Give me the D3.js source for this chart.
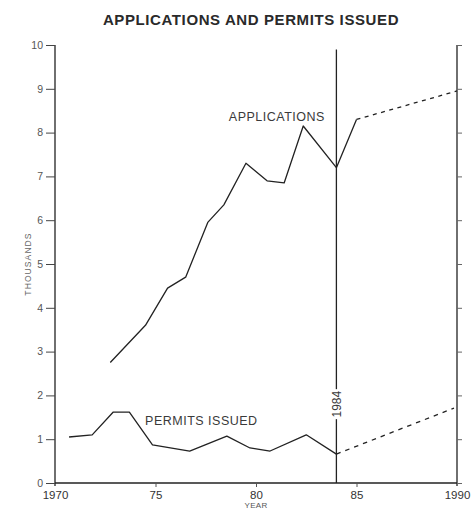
<!DOCTYPE html>
<html>
<head>
<meta charset="utf-8">
<script src="https://cdn.jsdelivr.net/npm/d3@7/dist/d3.min.js"></script>
<style>
  html, body { margin: 0; padding: 0; background: #fff; }
  svg { display: block; font-family: "Liberation Sans", Arial, Helvetica, sans-serif; }
</style>
</head>
<body>
<svg id="chart" width="471" height="511"></svg>
<script>
// ---- data ----
const title = "APPLICATIONS AND PERMITS ISSUED";
const xTickValues = [1970, 1975, 1980, 1985, 1990];
const xTickLabels = ["1970", "75", "80", "85", "1990"];
const yTickValues = [0, 1, 2, 3, 4, 5, 6, 7, 8, 9, 10];
const markerYear = 1984;

const appYears  = [1972.75, 1974.5, 1975.6, 1976.5, 1977.6, 1978.4, 1979.5, 1980.55, 1981.4, 1982.35, 1984, 1985];
const appValues = [2.75, 3.6, 4.45, 4.7, 5.95, 6.35, 7.3, 6.9, 6.85, 8.15, 7.2, 8.3];
const appProjYears  = [1985, 1990];
const appProjValues = [8.3, 8.95];

const permitYears  = [1970.7, 1971.85, 1972.9, 1973.7, 1974.85, 1976.7, 1978.55, 1979.7, 1980.7, 1982.5, 1984];
const permitValues = [1.05, 1.1, 1.62, 1.62, 0.87, 0.73, 1.07, 0.8, 0.73, 1.1, 0.66];
const permitProjYears  = [1984, 1989.85];
const permitProjValues = [0.66, 1.71];

// ---- scales ----
const svg = d3.select("#chart");
const x = d3.scaleLinear().domain([1970, 1990]).range([55, 457]);
const y = d3.scaleLinear().domain([0, 10]).range([483, 45]);

const ink = "#222";
const textCol = "#3a3a3a";

// title
svg.append("text")
  .attr("x", 251).attr("y", 25)
  .attr("text-anchor", "middle")
  .attr("font-size", 15).attr("font-weight", "bold")
  .attr("letter-spacing", 0.6)
  .attr("fill", "#2a2a2a")
  .text(title);

// left axis
const yAxis = d3.axisLeft(y).tickValues(yTickValues).tickSize(9).tickPadding(3).tickFormat(d3.format("d"));
const gy = svg.append("g").attr("transform", `translate(${x(1970)},0)`).call(yAxis);
gy.select(".domain").attr("stroke", ink).attr("stroke-width", 1.3).attr("d", `M0,${y(10)}V${y(0)+3}`);
gy.selectAll(".tick line").attr("stroke", "#444").attr("stroke-width", 1);
gy.selectAll(".tick text").attr("font-size", 10.5).attr("fill", "#555")
  .attr("font-family", "'Liberation Sans', Arial, sans-serif");

// right axis
const yAxisR = d3.axisRight(y).tickValues(yTickValues).tickSize(5).tickFormat("");
const gyr = svg.append("g").attr("transform", `translate(${x(1990)},0)`).call(yAxisR);
gyr.select(".domain").attr("stroke", ink).attr("stroke-width", 1.3).attr("d", `M0,${y(10)}V${y(0)+3}`);
gyr.selectAll(".tick line").attr("stroke", "#666").attr("stroke-width", 1);

// bottom axis
const xAxis = d3.axisBottom(x).tickValues(xTickValues).tickSize(4).tickPadding(4)
  .tickFormat((d, i) => xTickLabels[i]);
const gx = svg.append("g").attr("transform", `translate(0,${y(0)})`).call(xAxis);
gx.select(".domain").attr("stroke", ink).attr("stroke-width", 1.3).attr("d", `M${x(1970)},0H${x(1990)}`);
gx.selectAll(".tick line").attr("stroke", "#555").attr("stroke-width", 1)
  .attr("display", d => (d === 1970 || d === 1990) ? "none" : null);
gx.selectAll(".tick text").attr("font-size", 11.5).attr("fill", "#333")
  .attr("font-family", "'Liberation Sans', Arial, sans-serif");

// axis titles
svg.append("text")
  .attr("x", x(1980)).attr("y", 508)
  .attr("text-anchor", "middle").attr("font-size", 8).attr("fill", "#555")
  .attr("letter-spacing", 0.3)
  .text("YEAR");
svg.append("text")
  .attr("transform", `translate(31,${y(5.0)}) rotate(-90)`)
  .attr("text-anchor", "middle").attr("font-size", 8.5).attr("fill", "#666")
  .attr("letter-spacing", 1.1)
  .text("THOUSANDS");

// 1984 marker line
svg.append("line")
  .attr("x1", x(markerYear)).attr("x2", x(markerYear))
  .attr("y1", y(9.9)).attr("y2", y(0))
  .attr("stroke", ink).attr("stroke-width", 1.3);
const mk = svg.append("g").attr("transform", `translate(${x(markerYear)},${y(1.8)}) rotate(-90)`);
mk.append("rect").attr("x", -15).attr("y", -7).attr("width", 30).attr("height", 13).attr("fill", "#fff");
mk.append("text").attr("text-anchor", "middle").attr("dy", "0.35em")
  .attr("font-size", 12).attr("fill", textCol).text(String(markerYear));

// lines
const line = d3.line().x(d => x(d[0])).y(d => y(d[1]));
const zip = (a, b) => a.map((v, i) => [v, b[i]]);

svg.append("path").datum(zip(appYears, appValues)).attr("d", line)
  .attr("fill", "none").attr("stroke", ink).attr("stroke-width", 1.3).attr("stroke-linejoin", "round");
svg.append("path").datum(zip(appProjYears, appProjValues)).attr("d", line)
  .attr("fill", "none").attr("stroke", ink).attr("stroke-width", 1.3).attr("stroke-dasharray", "4,4.5");

svg.append("path").datum(zip(permitYears, permitValues)).attr("d", line)
  .attr("fill", "none").attr("stroke", ink).attr("stroke-width", 1.3).attr("stroke-linejoin", "round");
svg.append("path").datum(zip(permitProjYears, permitProjValues)).attr("d", line)
  .attr("fill", "none").attr("stroke", ink).attr("stroke-width", 1.3).attr("stroke-dasharray", "4.5,5");

// series labels
svg.append("text")
  .attr("x", x(1978.65)).attr("y", y(8.27))
  .attr("font-size", 12.5).attr("letter-spacing", 0.5).attr("fill", textCol)
  .text("APPLICATIONS");
svg.append("text")
  .attr("x", x(1974.48)).attr("y", y(1.32))
  .attr("font-size", 12.5).attr("letter-spacing", 0.5).attr("fill", textCol)
  .text("PERMITS ISSUED");
</script>
</body>
</html>
